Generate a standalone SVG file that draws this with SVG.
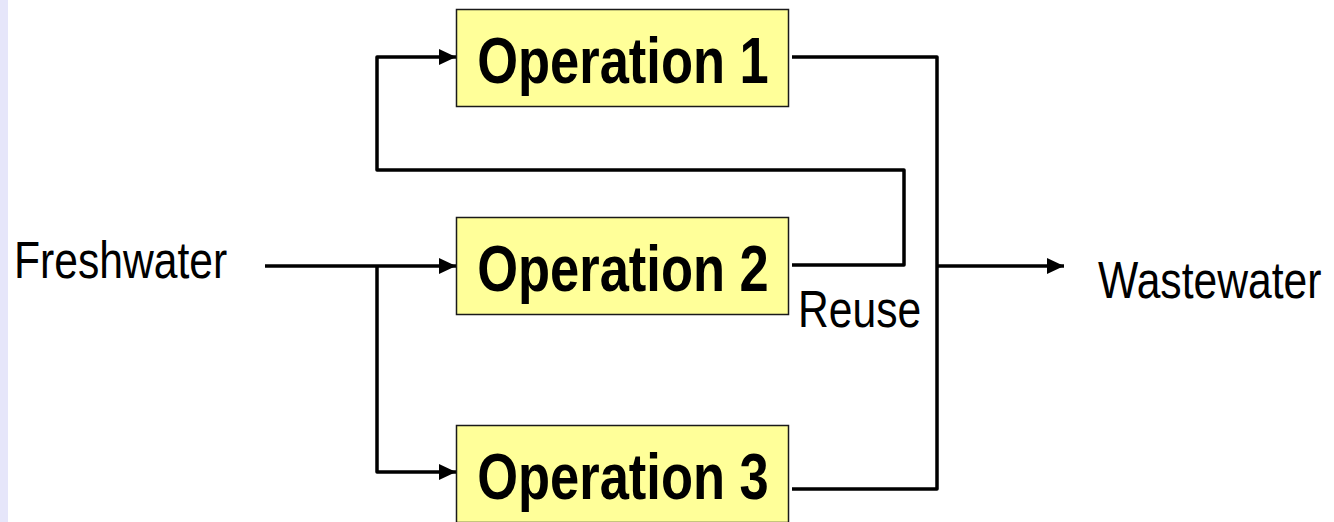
<svg xmlns="http://www.w3.org/2000/svg" width="1334" height="522" viewBox="0 0 1334 522">
  <defs>
    <marker id="arrow" markerWidth="17" markerHeight="16" refX="17" refY="8" orient="auto" markerUnits="userSpaceOnUse">
      <path d="M0,0 L17,8 L0,16 Z" fill="#000"/>
    </marker>
    <style>
      .box { fill: #FFFF99; stroke: #1a1a1a; stroke-width: 1.5; }
      .op { font-family: "Liberation Sans", Arial, sans-serif; font-weight: bold; font-size: 64px; fill: #000; text-anchor: middle; }
      .lbl { font-family: "Liberation Sans", Arial, sans-serif; font-size: 52px; fill: #000; }
      .wire { fill: none; stroke: #000; stroke-width: 3.5; stroke-linejoin: round; }
    </style>
  </defs>

  <!-- page background with lavender margin strip -->
  <rect x="0" y="0" width="1334" height="522" fill="#ffffff"/>
  <rect x="0" y="0" width="8" height="522" fill="#E6E6FA"/>

  <!-- flow lines -->
  <g id="connectors">
    <!-- freshwater feed into Operation 2 -->
    <path class="wire" d="M265,266 H456" marker-end="url(#arrow)"/>
    <!-- branch down to Operation 3 -->
    <path class="wire" d="M377,266 V472 H456" marker-end="url(#arrow)"/>
    <!-- reuse loop: Operation 2 outlet back to Operation 1 -->
    <path class="wire" d="M792,265 H904 V170 H377 V57 H456" marker-end="url(#arrow)"/>
    <!-- Operation 1 and Operation 3 outlets to the collector -->
    <path class="wire" d="M792,57 H937 V489 H792"/>
    <!-- collector to wastewater -->
    <path class="wire" d="M937,266 H1064" marker-end="url(#arrow)"/>
  </g>

  <g id="op1">
    <rect class="box" x="456.5" y="9.5" width="332" height="97"/>
    <text class="op" transform="translate(623,83) scale(0.82,1)">Operation 1</text>
  </g>

  <g id="op2">
    <rect class="box" x="456.5" y="217.5" width="332" height="97"/>
    <text class="op" transform="translate(623,291) scale(0.82,1)">Operation 2</text>
  </g>

  <g id="op3">
    <rect class="box" x="456.5" y="425.5" width="332" height="97"/>
    <text class="op" transform="translate(623,499) scale(0.82,1)">Operation 3</text>
  </g>

  <g id="freshwater">
    <text class="lbl" transform="translate(14,278) scale(0.82,1)">Freshwater</text>
  </g>

  <g id="reuse">
    <text class="lbl" transform="translate(798,327) scale(0.82,1)">Reuse</text>
  </g>

  <g id="wastewater">
    <text class="lbl" transform="translate(1098,298) scale(0.82,1)">Wastewater</text>
  </g>
</svg>
